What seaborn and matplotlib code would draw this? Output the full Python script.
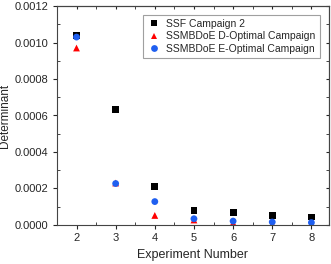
import matplotlib
matplotlib.use('Agg')
import pandas as pd
import matplotlib.pyplot as plt
import seaborn as sns
from matplotlib.ticker import MultipleLocator

experiments = [2, 3, 4, 5, 6, 7, 8]
ssf = [1.04e-3, 6.33e-4, 2.10e-4, 8.0e-5, 6.6e-5, 5.0e-5, 4.3e-5]
d_opt = [9.7e-4, 2.3e-4, 5.2e-5, 2.7e-5, 1.2e-5, 6e-6, 5e-6]
e_opt = [1.03e-3, 2.27e-4, 1.28e-4, 3.4e-5, 2.1e-5, 1.6e-5, 1.3e-5]
names = ['SSF Campaign 2', 'SSMBDoE D-Optimal Campaign', 'SSMBDoE E-Optimal Campaign']

df = pd.concat([
    pd.DataFrame({'exp': experiments, 'det': vals, 'series': n})
    for n, vals in zip(names, [ssf, d_opt, e_opt])
])

sns.set_style('white')
plt.rcParams['font.family'] = ['Liberation Sans', 'DejaVu Sans']

fig = plt.figure(figsize=(3.31, 2.64), dpi=100)
ax = fig.add_axes([0.172, 0.148, 0.822, 0.829])

sns.scatterplot(data=df, x='exp', y='det', hue='series', style='series',
                palette=['black', 'red', '#1f5ff0'], markers=['s', '^', 'o'],
                s=24, linewidth=0, ax=ax)

ax.set_xlim(1.5, 8.45)
ax.set_ylim(0, 0.0012)
ax.xaxis.set_major_locator(MultipleLocator(1))
ax.xaxis.set_minor_locator(MultipleLocator(0.5))
ax.yaxis.set_major_locator(MultipleLocator(0.0002))
ax.yaxis.set_minor_locator(MultipleLocator(0.0001))
ax.yaxis.set_major_formatter(matplotlib.ticker.FormatStrFormatter('%.4f'))
ax.tick_params(which='major', direction='out', length=3, width=0.8, labelsize=8,
               bottom=True, left=True, pad=3)
ax.tick_params(which='minor', direction='in', length=2, width=0.6, bottom=True, left=True)
for s in ax.spines.values():
    s.set_color('#444444')
    s.set_linewidth(0.8)

sec_x = ax.secondary_xaxis('top')
sec_x.set_xticks(ax.get_xticks())
sec_x.xaxis.set_minor_locator(MultipleLocator(0.5))
sec_x.tick_params(which='both', direction='in', labeltop=False, length=2.5)
sec_y = ax.secondary_yaxis('right')
sec_y.yaxis.set_major_locator(MultipleLocator(0.0002))
sec_y.yaxis.set_minor_locator(MultipleLocator(0.0001))
sec_y.tick_params(which='both', direction='in', labelright=False, length=2.5)

ax.set_xlabel('Experiment Number', fontsize=9, labelpad=4)
ax.set_ylabel('Determinant', fontsize=8.5)
ax.yaxis.set_label_coords(-0.168, 0.5)

leg = ax.legend(loc='upper right', fontsize=7.5, frameon=True, fancybox=False,
                edgecolor='#888888', borderpad=0.4, handletextpad=0.6,
                labelspacing=0.25, handlelength=1.2, bbox_to_anchor=(0.985, 0.985))
leg.get_frame().set_linewidth(0.8)

fig.savefig('out.png', dpi=100)
